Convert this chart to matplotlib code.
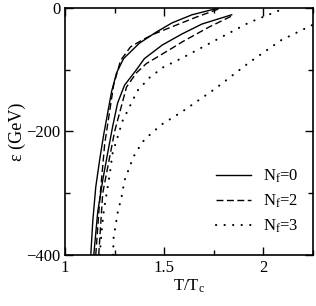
import numpy as np
import matplotlib.pyplot as plt
from matplotlib.ticker import MultipleLocator

plt.rcParams['font.family'] = ['Liberation Serif', 'DejaVu Serif']
plt.rcParams['mathtext.fontset'] = 'custom'
plt.rcParams['mathtext.rm'] = 'Liberation Serif'
plt.rcParams['mathtext.it'] = 'Liberation Serif'

# Nf=0 (two solid curves)
x_s1 = [1.13, 1.14, 1.155, 1.175, 1.195, 1.215, 1.235, 1.26, 1.295, 1.375, 1.46, 1.54, 1.64, 1.775]
y_s1 = [-400, -345, -290, -245, -205, -170, -135, -105, -82, -57, -39, -24, -11, 0]
x_s2 = [1.145, 1.165, 1.19, 1.215, 1.24, 1.265, 1.30, 1.36, 1.40, 1.49, 1.59, 1.69, 1.84]
y_s2 = [-400, -330, -279, -235, -192, -154, -125, -100, -82, -60, -42, -26, -11]

# Nf=2 (two dashed curves)
x_d1 = [1.155, 1.175, 1.2, 1.245, 1.28, 1.33, 1.40, 1.45, 1.55, 1.66, 1.78]
y_d1 = [-400, -311, -220, -125, -85, -63, -50, -42, -29, -15, -1]
x_d2 = [1.17, 1.19, 1.25, 1.31, 1.36, 1.41, 1.54, 1.59, 1.725, 1.84]
y_d2 = [-400, -300, -200, -128, -105, -90, -65, -55, -31, -13]

# Nf=3 (two dotted curves)
x_p1 = [1.175, 1.185, 1.195, 1.21, 1.225, 1.24, 1.265, 1.29, 1.33, 1.365, 1.425, 1.495, 1.59, 1.76, 1.925, 2.11]
y_p1 = [-400, -360, -330, -300, -270, -235, -209, -183, -157, -134, -113, -96, -81, -52, -24, 0]
x_p2 = [1.242, 1.245, 1.265, 1.285, 1.30, 1.345, 1.39, 1.425, 1.49, 1.59, 1.76, 1.925, 2.09, 2.25]
y_p2 = [-400, -372, -332, -306, -279, -241, -217, -206, -188, -168, -130, -89, -52, -27]

fig = plt.figure(figsize=(3.16, 3.06), dpi=100)
ax = fig.add_axes([0.2057, 0.1667, 0.785, 0.8072])

dash = (0, (5, 2.5))
dot = (0, (0.1, 4.0))

ax.plot(x_s1, y_s1, color='black', lw=1.0, label='N$_\\mathregular{f}$=0')
ax.plot(x_s2, y_s2, color='black', lw=1.0)
ax.plot(x_d1, y_d1, color='black', lw=1.0, linestyle=dash, label='N$_\\mathregular{f}$=2')
ax.plot(x_d2, y_d2, color='black', lw=1.0, linestyle=dash)
ax.plot(x_p1, y_p1, color='black', lw=1.5, linestyle=dot, dash_capstyle='round', label='N$_\\mathregular{f}$=3')
ax.plot(x_p2, y_p2, color='black', lw=1.5, linestyle=dot, dash_capstyle='round')

ax.set_xlim(1, 2.25)
ax.set_ylim(-400, 0)
ax.xaxis.set_major_locator(MultipleLocator(0.5))
ax.xaxis.set_minor_locator(MultipleLocator(0.25))
ax.yaxis.set_major_locator(MultipleLocator(200))
ax.yaxis.set_minor_locator(MultipleLocator(100))
ax.set_xticks([1, 1.5, 2])
ax.set_xticklabels(['1', '1.5', '2'])
ax.tick_params(which='both', direction='in', top=True, right=True, labelsize=12, width=1)
ax.tick_params(which='major', length=6)
ax.tick_params(which='minor', length=3.5)
for s in ax.spines.values():
    s.set_linewidth(1.2)

ax.set_xlabel('T/T$_\\mathregular{c}$', fontsize=12, labelpad=1)
ax.set_ylabel('\u03b5 (GeV)', fontsize=13, labelpad=0)

leg = ax.legend(loc='lower right', frameon=False, fontsize=12, handlelength=2.1,
                handletextpad=0.7, labelspacing=0.45, bbox_to_anchor=(1.0, 0.02))

fig.savefig('out.png', dpi=100)
